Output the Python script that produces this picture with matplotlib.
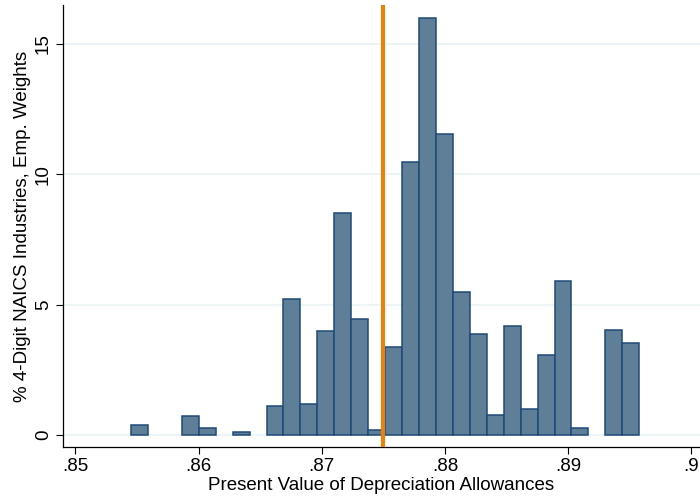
import matplotlib
matplotlib.use('Agg')
import matplotlib.pyplot as plt
import numpy as np

# histogram: 30 equal-width bins between the min and max of the data
bin_lo = 0.85452
bin_hi = 0.89577
pct = [0.39, 0, 0, 0.72, 0.28, 0, 0.11, 0, 1.11, 5.21,
       1.19, 3.98, 8.49, 4.46, 0.2, 3.36, 10.45, 16.0, 11.54, 5.48,
       3.87, 0.78, 4.19, 0.98, 3.05, 5.91, 0.28, 0, 4.03, 3.52]
cutoff = 0.875

x_ticks = [0.85, 0.86, 0.87, 0.88, 0.89, 0.90]
x_labels = ['.85', '.86', '.87', '.88', '.89', '.9']
y_ticks = [0, 5, 10, 15]

plt.rcParams['font.family'] = ['Liberation Sans', 'DejaVu Sans']

edges = np.linspace(bin_lo, bin_hi, len(pct) + 1)
lefts = edges[:-1]
widths = np.diff(edges)
heights = np.array(pct)
keep = heights > 0

fig = plt.figure(figsize=(7, 5), dpi=100)
ax = fig.add_axes([0.09, 0.106, 0.91, 0.884])

for y in y_ticks:
    ax.axhline(y, color='#eaf2f3', lw=1.2, zorder=0)

ax.bar(lefts[keep], heights[keep], width=widths[keep], align='edge',
       color='#5f7f99', edgecolor='#1f4a78', linewidth=1.1, zorder=2)
ax.axvline(cutoff, color='#e8820c', lw=3, zorder=3)

ax.set_xlim(0.849, 0.9007)
ax.set_ylim(-0.46, 16.48)
ax.set_xticks(x_ticks)
ax.set_xticklabels(x_labels)
ax.set_yticks(y_ticks)
ax.set_yticklabels([str(v) for v in y_ticks], rotation=90, va='center')
ax.tick_params(axis='both', labelsize=13.5, length=5, width=0.8,
               direction='out', pad=3)

for side in ['top', 'right']:
    ax.spines[side].set_visible(False)
for side in ['left', 'bottom']:
    ax.spines[side].set_linewidth(0.9)

ax.set_xlabel('Present Value of Depreciation Allowances', fontsize=13.5, labelpad=1)
ax.set_ylabel('% 4-Digit NAICS Industries, Emp. Weights', fontsize=13.5, labelpad=3)

fig.savefig('out.png', dpi=100)
